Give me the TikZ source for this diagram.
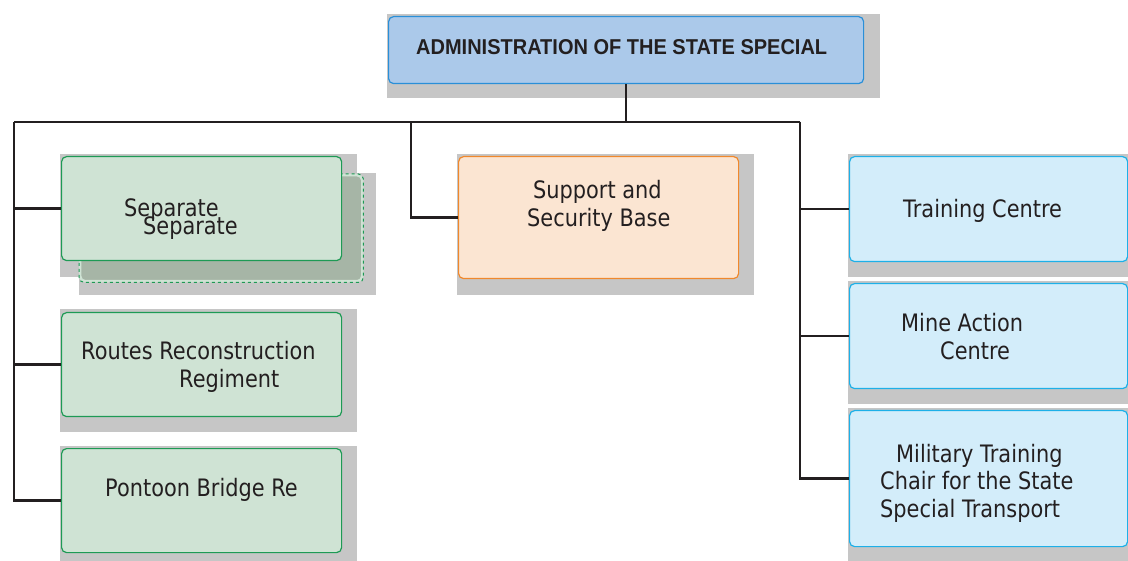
\documentclass[tikz,border=0pt]{standalone}
\usepackage{fontspec}
\newfontfamily\bodyfont[FakeStretch=0.87]{DejaVu Sans}
\newfontfamily\titlefont[FakeStretch=0.93]{Liberation Sans}
\definecolor{shadowgray}{HTML}{C6C6C6}
\definecolor{inkc}{HTML}{231F20}
\definecolor{topfill}{HTML}{ABC9EA}
\definecolor{topline}{HTML}{2A8FD8}
\definecolor{grfill}{HTML}{CFE3D4}
\definecolor{grline}{HTML}{1E9A55}
\definecolor{grback}{HTML}{A6B5A6}
\definecolor{orfill}{HTML}{FBE5D2}
\definecolor{orline}{HTML}{F0882C}
\definecolor{blfill}{HTML}{D3EDFA}
\definecolor{blline}{HTML}{1DB0E8}
\tikzset{
  box/.style={rectangle, rounded corners=5pt, line width=1.2pt, inner sep=0pt, anchor=north west},
  topbox/.style={box, fill=topfill, draw=topline},
  greenbox/.style={box, fill=grfill, draw=grline},
  orangebox/.style={box, fill=orfill, draw=orline},
  bluebox/.style={box, fill=blfill, draw=blline},
  txt/.style={inner sep=0pt, anchor=base west, text=inkc, font=\bodyfont\fontsize{24}{28}\selectfont},
  ttl/.style={inner sep=0pt, anchor=base west, text=inkc, font=\titlefont\bfseries\fontsize{21.5}{25}\selectfont},
  conn/.style={draw=inkc, line width=2.3pt},
  shade/.style={fill=shadowgray}
}
\begin{document}
\begin{tikzpicture}[x=1pt,y=-1pt]
\useasboundingbox (0,0) rectangle (1128,561);
% shadows and boxes
\fill[shade] (387,14) rectangle (880,98);
\node[topbox, minimum width=475pt, minimum height=67pt] (top) at (388,16) {};
% separate: back box over front shadow
\fill[shade] (79,173) rectangle (376,295);
\fill[shade] (60,154) rectangle (357,277);
\node[box, fill=grback, draw=grfill, line width=2.4pt, minimum width=282pt, minimum height=106pt] (sepback) at (79,174) {};
\draw[grline, line width=1pt, dashed, rounded corners=5pt] (sepback.north west) rectangle (sepback.south east);
\node[greenbox, minimum width=280pt, minimum height=104pt] (sep) at (61,156) {};
\fill[shade] (60,309) rectangle (357,432);
\node[greenbox, minimum width=280pt, minimum height=104pt] (routes) at (61,312) {};
\fill[shade] (60,446) rectangle (357,570);
\node[greenbox, minimum width=280pt, minimum height=104pt] (pontoon) at (61,448) {};
\fill[shade] (457,154) rectangle (754,295);
\node[orangebox, minimum width=280pt, minimum height=122pt] (support) at (458,156) {};
\fill[shade] (848,154) rectangle (1145,277);
\node[bluebox, minimum width=278pt, minimum height=105pt] (train) at (849,156) {};
\fill[shade] (848,281) rectangle (1145,404);
\node[bluebox, minimum width=278pt, minimum height=105pt] (mine) at (849,283) {};
\fill[shade] (848,408) rectangle (1145,575);
\node[bluebox, minimum width=278pt, minimum height=136pt] (mil) at (849,410) {};
% connectors
\coordinate (jL) at (14,122);
\coordinate (jM) at (411,122);
\coordinate (jR) at (800,122);
\draw[conn] (top.south) -- (top.south |- jL);
\draw[conn] (jL) -- (jR);
\draw[conn] (jL) |- (sep.west);
\draw[conn] (jL) |- (routes.west);
\draw[conn] (jL) |- (pontoon.west);
\draw[conn] (jM) |- (support.west);
\draw[conn] (jR) |- (train.west);
\draw[conn] (jR) |- (mine.west);
\draw[conn] (jR) |- (mil.west);
% texts
\node[ttl] (ttitle) at (416,55) {ADMINISTRATION OF THE STATE SPECIAL};
\node[txt] (tsepa) at (124,217) {Separate};
\node[txt] (tsepb) at (143,235) {Separate};
\node[txt] (troa) at (81,360) {Routes Reconstruction};
\node[txt] (trob) at (179,388) {Regiment};
\node[txt] (tpon) at (105,496) {Pontoon Bridge Re};
\node[txt] (tsua) at (533,199) {Support and};
\node[txt] (tsub) at (527,227) {Security Base};
\node[txt] (ttra) at (903,218) {Training Centre};
\node[txt] (tmia) at (901,332) {Mine Action};
\node[txt] (tmib) at (940,360) {Centre};
\node[txt] (tmla) at (896,462) {Military Training};
\node[txt] (tmlb) at (880,489) {Chair for the State};
\node[txt] (tmlc) at (880,517) {Special Transport};
\end{tikzpicture}
\end{document}
